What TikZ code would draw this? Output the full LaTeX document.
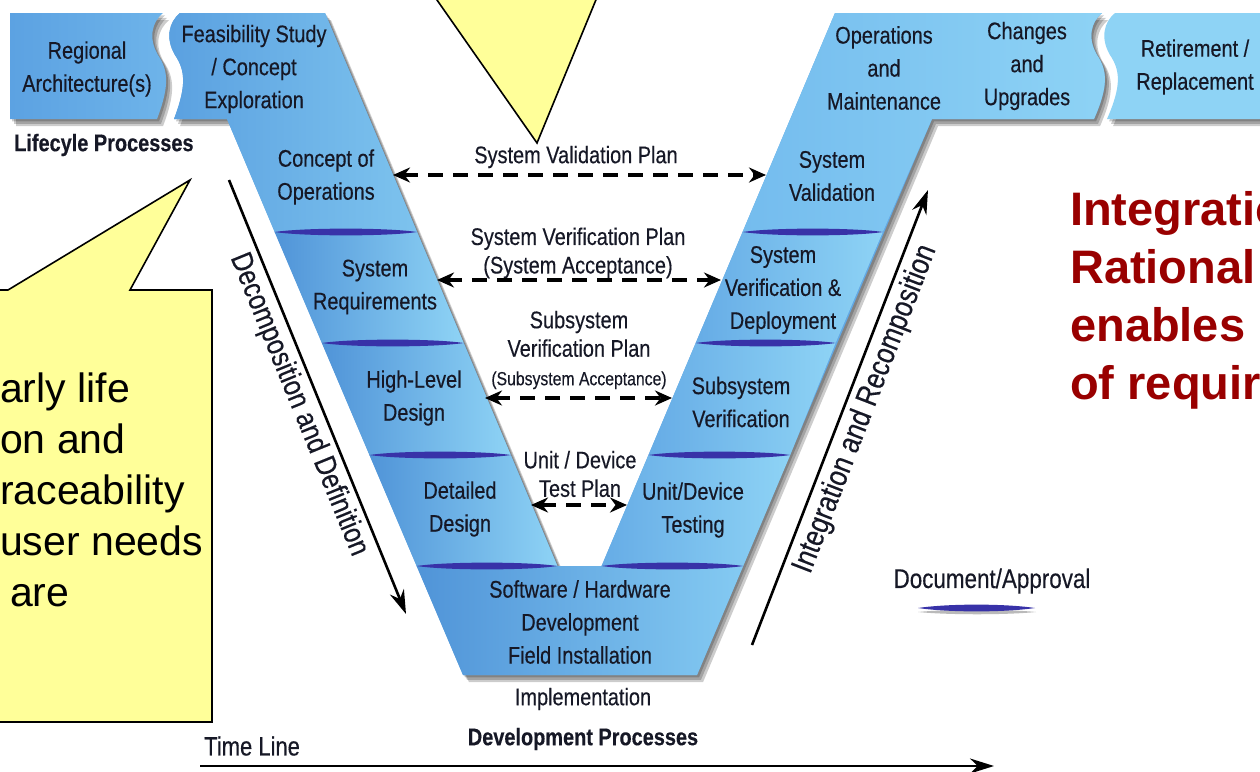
\documentclass[tikz,border=0pt]{standalone}
\usepackage{fontspec}
\setmainfont{Liberation Sans}
\newfontfamily\nar[FakeStretch=0.83,FakeBold=0.35]{Liberation Sans}
\usetikzlibrary{arrows.meta}
\definecolor{txt}{RGB}{22,24,38}
\definecolor{vdk}{RGB}{80,148,216}
\definecolor{vmd}{RGB}{98,168,228}
\definecolor{vlt}{RGB}{142,211,245}
\definecolor{lenscol}{RGB}{56,50,168}
\definecolor{calloutfill}{RGB}{255,255,153}
\definecolor{redtxt}{RGB}{153,0,0}
\tikzset{
 vtext/.style={font=\nar\fontsize{24}{33}\selectfont, align=center, text=txt, inner sep=0pt},
 plantext/.style={font=\nar\fontsize{24}{28.5}\selectfont, align=center, text=txt, inner sep=0pt},
 rottext/.style={font=\nar\fontsize{30}{34}\selectfont, text=txt, inner sep=0pt},
 boldlab/.style={font=\nar\bfseries\fontsize{24}{28}\selectfont, text=txt, inner sep=0pt},
 plan/.style={line width=3.2pt, dash pattern=on 15pt off 10pt, {Stealth[length=17pt,width=15pt]}-{Stealth[length=17pt,width=15pt]}},
 flow/.style={line width=2.6pt, -{Stealth[length=24pt,width=15pt]}},
 callout/.style={fill=calloutfill, draw=black, line width=1.6pt, line join=miter},
 calltext/.style={font=\fontsize{41}{51}\selectfont, text=black, inner sep=0pt, anchor=base west},
 redtext/.style={font=\bfseries\fontsize{47}{58}\selectfont, text=redtxt, inner sep=0pt, anchor=base west},
 shadowlayer/.style={fill=black, opacity=0.2},
}
\newcommand\doclens[3]{\fill[lenscol] (#1,#3) .. controls +(30,-4.5) and +(-30,-4.5) .. (#2,#3) .. controls +(-30,4.5) and +(30,4.5) .. (#1,#3) -- cycle;}
\def\mainpath{(180,13) -- (325,13) -- (557.4,566) -- (601.6,566) -- (835,13) -- (1102,13) .. controls (1091,22) and (1087,38) .. (1097,55) .. controls (1107,70) and (1109,85) .. (1094,119) -- (932,119) -- (697,675) -- (463,675) -- (227,119) -- (174,119) .. controls (187,85) and (185,70) .. (175,55) .. controls (165,38) and (169,22) .. (180,13) -- cycle}
\def\regpath{(10,13) -- (163,13) .. controls (152,22) and (148,38) .. (158,55) .. controls (168,70) and (170,85) .. (157,119) -- (10,119) -- cycle}
\def\retpath{(1115,13) -- (1275,13) -- (1275,119) -- (1107,119) .. controls (1122,85) and (1120,70) .. (1110,55) .. controls (1100,38) and (1104,22) .. (1115,13) -- cycle}
\begin{document}
\begin{tikzpicture}[x=1pt,y=-1pt]
\useasboundingbox (0,0) rectangle (1260,771);
\clip (0,0) rectangle (1260,771);
% shadows
\foreach \d in {2,4,6}{
  \fill[shadowlayer,shift={(\d,\d*1.2)}] \mainpath;
  \fill[shadowlayer,shift={(\d,\d*1.2)}] \regpath;
  \fill[shadowlayer,shift={(\d,\d*1.2)}] \retpath;
}
% base fills
\fill[vmd] \mainpath;
\shade[left color={rgb,255:red,92;green,162;blue,226}, right color={rgb,255:red,110;green,180;blue,234}] \regpath;
\fill[vlt] \retpath;
% shaded pieces
\shade[left color={rgb,255:red,90;green,160;blue,224}, right color={rgb,255:red,125;green,195;blue,238}]
  (180,13) -- (325,13) -- (417.1,232) -- (274.6,232) -- (227,119) -- (174,119) .. controls (187,85) and (185,70) .. (175,55) .. controls (165,38) and (169,22) .. (180,13) -- cycle;
\shade[left color=vdk, right color=vlt] (274.6,232) -- (417.1,232) -- (463.7,343) -- (321.8,343) -- cycle;
\shade[left color=vdk, right color=vlt] (321.8,343) -- (463.7,343) -- (510.8,455) -- (369.4,455) -- cycle;
\shade[left color=vdk, right color=vlt] (369.4,455) -- (510.8,455) -- (557.4,566) -- (416.6,566) -- cycle;
\shade[left color=vdk, right color={rgb,255:red,132;green,202;blue,242}] (416.6,566) -- (743.2,566) -- (697,675) -- (463,675) -- cycle;
\shade[left color={rgb,255:red,102;green,172;blue,230}, right color=vlt] (601.6,566) -- (743.2,566) -- (790.2,455) -- (648.5,455) -- cycle;
\shade[left color={rgb,255:red,102;green,172;blue,230}, right color=vlt] (648.5,455) -- (790.2,455) -- (835.6,343) -- (695.7,343) -- cycle;
\shade[left color={rgb,255:red,102;green,172;blue,230}, right color=vlt] (695.7,343) -- (835.6,343) -- (882.8,232) -- (742.6,232) -- cycle;
\shade[left color={rgb,255:red,116;green,188;blue,238}, right color=vlt]
  (742.6,232) -- (882.8,232) -- (932,119) -- (1094,119) .. controls (1109,85) and (1107,70) .. (1097,55) .. controls (1087,38) and (1091,22) .. (1102,13) -- (835,13) -- cycle;
% document/approval lenses
\doclens{274.6}{417.1}{232}
\doclens{321.8}{463.7}{343}
\doclens{369.4}{510.8}{455}
\doclens{416.6}{557.4}{566}
\doclens{742.6}{882.8}{232}
\doclens{695.7}{835.6}{343}
\doclens{648.5}{790.2}{455}
\doclens{601.6}{743.2}{566}
\fill[black!45,opacity=0.6] (918,612) .. controls +(30,-3) and +(-30,-3) .. (1036,612) .. controls +(-30,3) and +(30,3) .. (918,612) -- cycle;
\doclens{918}{1035}{608}
% stage texts
\node[vtext] (reg) at (87,69) {Regional\\Architecture(s)};
\node[vtext] (feas) at (254,69) {Feasibility Study\\/ Concept\\Exploration};
\node[boldlab, anchor=west] (life) at (14,145) {Lifecyle Processes};
\node[vtext] (conops) at (326,177) {Concept of\\Operations};
\node[vtext] (sysreq) at (375,287) {System\\Requirements};
\node[vtext] (hld) at (414,398) {High-Level\\Design};
\node[vtext] (dd) at (460,509) {Detailed\\Design};
\node[vtext] (swhw) at (580,622) {Software / Hardware\\Development\\Field Installation};
\node[vtext] (impl) at (583,699) {Implementation};
\node[boldlab] (devproc) at (583,739) {Development Processes};
\node[vtext, font=\nar\fontsize{26.5}{30}\selectfont, anchor=west] (tl) at (204,746) {Time Line};
\node[vtext] (opsm) at (884,68) {Operations\\and\\Maintenance};
\node[vtext] (chg) at (1027,66) {Changes\\and\\Upgrades};
\node[vtext] (ret) at (1195,67) {Retirement /\\Replacement};
\node[vtext] (sysval) at (832,176) {System\\Validation};
\node[vtext] (sysver) at (783,290) {System\\Verification \&\\Deployment};
\node[vtext] (subver) at (741,402) {Subsystem\\Verification};
\node[vtext] (unit) at (693,510) {Unit/Device\\Testing};
\node[vtext, font=\nar\fontsize{27}{30}\selectfont] (docapp) at (992,581) {Document/Approval};
% plan labels
\node[plantext] (svp) at (576,157) {System Validation Plan};
\node[plantext] (sverp) at (578,253) {System Verification Plan\\(System Acceptance)};
\node[plantext] (ssvp) at (579,350) {Subsystem\\Verification Plan\\{\fontsize{19}{26}\selectfont (Subsystem Acceptance)}};
\node[plantext] (udtp) at (580,474) {Unit / Device\\Test Plan};
% plan arrows
\coordinate (svpL) at (393,175); \coordinate (svpR) at (766,175);
\coordinate (sverpL) at (437,280); \coordinate (sverpR) at (721,280);
\coordinate (ssvpL) at (485,398); \coordinate (ssvpR) at (672,398);
\coordinate (udtpL) at (531,505); \coordinate (udtpR) at (627,505);
\draw[plan] (svpL) -- (svpR);
\draw[plan] (sverpL) -- (sverpR);
\draw[plan] (ssvpL) -- (ssvpR);
\draw[plan] (udtpL) -- (udtpR);
% process arrows
\coordinate (decA) at (229,180); \coordinate (decB) at (406,614);
\coordinate (intA) at (752,645); \coordinate (intB) at (928,190);
\draw[flow] (decA) -- (decB) node[midway, sloped, below=5pt, rottext] (decomp) {Decomposition and Definition};
\draw[flow] (intA) -- (intB) node[pos=0.535, sloped, below=5pt, rottext, font=\nar\fontsize{31}{34}\selectfont] (integ) {Integration and Recomposition};
\coordinate (tlA) at (200,766); \coordinate (tlB) at (994,766);
\draw[flow, line width=2.8pt] (tlA) -- (tlB);
% callouts
\draw[callout] (430,-10) -- (537,143) -- (600,-10);
\draw[callout] (-10,290) -- (8,290) -- (190,180) -- (130,290) -- (212,290) -- (212,722) -- (-10,722) -- cycle;
\node[calltext] (c1) at (0,402) {arly life};
\node[calltext] (c2) at (0,453) {on and};
\node[calltext] (c3) at (0,504) {raceability};
\node[calltext] (c4) at (0,555) {user needs};
\node[calltext] (c5) at (10,606) {are};
% red text
\node[redtext] (r1) at (1070,225) {Integratio};
\node[redtext] (r2) at (1070,283) {Rational};
\node[redtext] (r3) at (1070,341) {enables};
\node[redtext] (r4) at (1070,399) {of requir};
\end{tikzpicture}
\end{document}
